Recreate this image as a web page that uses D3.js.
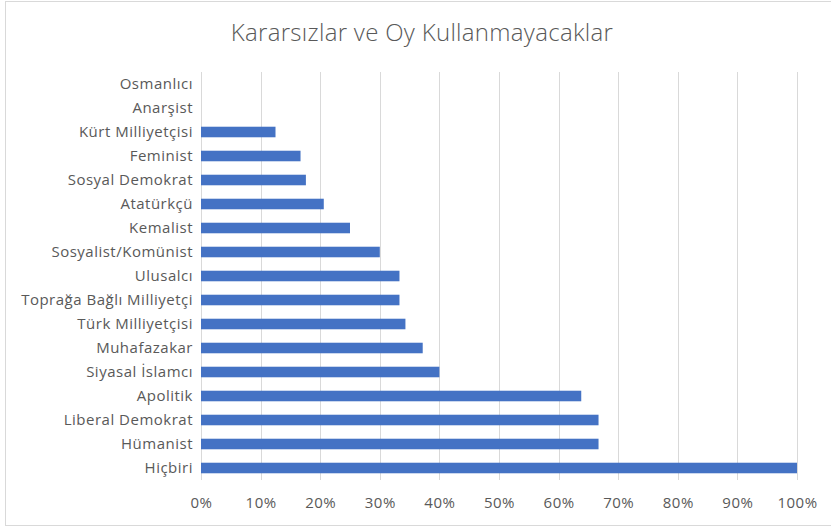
<!DOCTYPE html>
<html>
<head>
<meta charset="utf-8">
<script src="https://cdn.jsdelivr.net/npm/d3@7"></script>
<style>
  body { margin: 0; background: #fff; }
  text { font-family: "Open Sans", "Noto Sans", sans-serif; fill: #595959; }
</style>
</head>
<body>
<div class="content"></div>
<script>
// DATA
var categories = ['Osmanlıcı', 'Anarşist', 'Kürt Milliyetçisi', 'Feminist', 'Sosyal Demokrat',
    'Atatürkçü', 'Kemalist', 'Sosyalist/Komünist', 'Ulusalcı', 'Toprağa Bağlı Milliyetçi',
    'Türk Milliyetçisi', 'Muhafazakar', 'Siyasal İslamcı', 'Apolitik', 'Liberal Demokrat',
    'Hümanist', 'Hiçbiri'];
var values = [0, 0, 0.125, 0.167, 0.176, 0.206, 0.25, 0.30, 0.333, 0.333,
    0.343, 0.372, 0.40, 0.638, 0.667, 0.667, 1.0];
var ticks = [0, 0.1, 0.2, 0.3, 0.4, 0.5, 0.6, 0.7, 0.8, 0.9, 1.0];
var title = 'Kararsızlar ve Oy Kullanmayacaklar';

// VARIABLES
var w = 831,
    h = 528,
    plotLeft = 201,
    plotRight = 797,
    plotTop = 72,
    plotBottom = 480;

// PREPARE SVG
var svg = d3.select('.content').append('svg')
    .attr('width', w)
    .attr('height', h);

svg.append('rect')
    .attr('x', 5.5).attr('y', 1.5)
    .attr('width', 840).attr('height', 524)
    .attr('fill', '#fff')
    .attr('stroke', '#d9d9d9');

// SCALES
var x = d3.scaleLinear().domain([0, 1]).range([plotLeft, plotRight]);
var y = d3.scaleBand().domain(categories).range([plotTop, plotBottom]).paddingInner(0.56).paddingOuter(0.28);

// GRID
svg.selectAll('.grid')
    .data(ticks)
    .enter()
    .append('line')
    .attr('x1', function(d) { return Math.round(x(d)) + 0.5; })
    .attr('x2', function(d) { return Math.round(x(d)) + 0.5; })
    .attr('y1', plotTop)
    .attr('y2', plotBottom)
    .attr('stroke', '#d9d9d9')
    .attr('stroke-width', 1);

// BARS
svg.selectAll('.bar')
    .data(values)
    .enter()
    .append('rect')
    .attr('x', x(0))
    .attr('y', function(d, i) { return y(categories[i]); })
    .attr('width', function(d) { return x(d) - x(0); })
    .attr('height', y.bandwidth())
    .attr('fill', '#4472c4');

// AXES
var xAxis = svg.append('g')
    .attr('transform', 'translate(0,' + plotBottom + ')')
    .call(d3.axisBottom(x).tickValues(ticks).tickFormat(d3.format('.0%')).tickSize(0).tickPadding(17));
xAxis.select('.domain').remove();
xAxis.selectAll('text').style('font-size', '15px').style('letter-spacing', '0.5px')
    .attr('fill', '#666').style('font-family', '"Open Sans", sans-serif');

var yAxis = svg.append('g')
    .attr('transform', 'translate(' + (plotLeft - 8) + ',0)')
    .call(d3.axisLeft(y).tickSize(0).tickPadding(0));
yAxis.select('.domain').remove();
yAxis.selectAll('text').style('font-size', '15px').style('letter-spacing', '0.5px')
    .attr('fill', '#666').style('font-family', '"Open Sans", sans-serif');

// TITLE
svg.append('text')
    .attr('x', 422)
    .attr('y', 41)
    .attr('text-anchor', 'middle')
    .style('font-size', '24px')
    .style('letter-spacing', '0.3px')
    .style('font-weight', 300)
    .text(title);
</script>
</body>
</html>
